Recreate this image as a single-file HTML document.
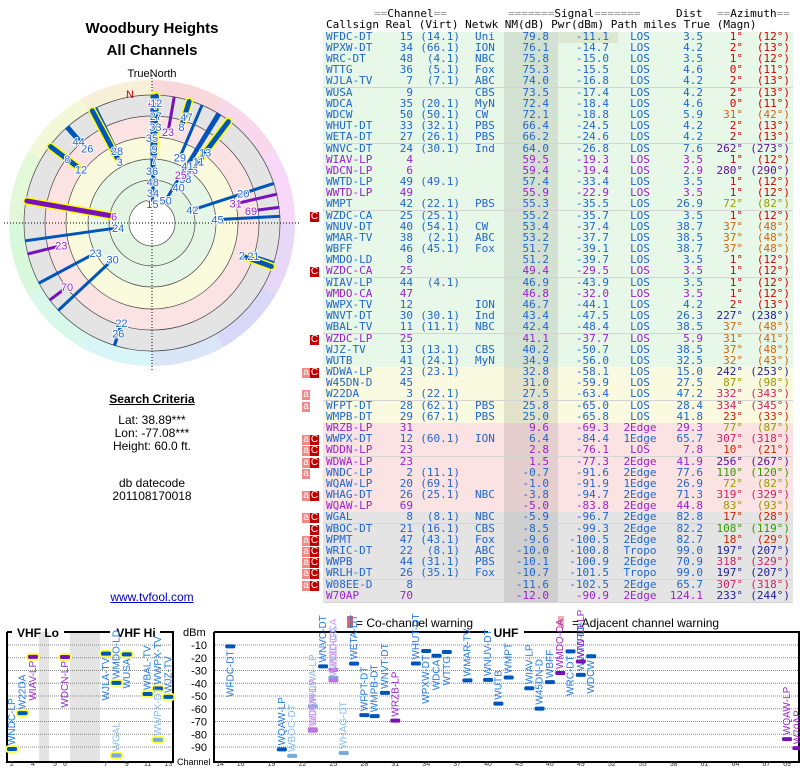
<!DOCTYPE html>
<html><head><meta charset="utf-8">
<style>
body{margin:0;width:800px;height:768px;background:#fff;position:relative;overflow:hidden;font-family:"Liberation Sans",sans-serif}
.abs{position:absolute;white-space:nowrap}
.ctr{position:absolute;left:0;width:304px;text-align:center;white-space:nowrap}
#tbl{position:absolute;left:0;top:0;width:800px;height:610px;font-family:"DejaVu Sans Mono",monospace;font-size:11px}
.row{position:absolute;left:323px;width:470px;height:11px;border-bottom:1px solid #d4d4d4}
.c{position:absolute;top:-1px;line-height:12px;white-space:nowrap}
.hd{position:absolute;font-family:"DejaVu Sans Mono",monospace;font-size:11px;white-space:nowrap;line-height:12px}
.g{color:#999}
.fl{position:absolute;width:9px;height:10px;color:#fff;font-size:10px;line-height:10px;text-align:center;font-family:"Liberation Sans",sans-serif}
</style></head><body>
<div class="ctr" style="top:20px;font-size:15px;font-weight:bold">Woodbury Heights</div>
<div class="ctr" style="top:42px;font-size:15px;font-weight:bold">All Channels</div>
<div class="ctr" style="top:68px;font-size:11px">TrueNorth</div>
<svg id="polar" class="abs" style="left:0;top:70px" width="304" height="310"></svg>
<div class="ctr" style="top:392px;font-size:12px;font-weight:bold;text-decoration:underline">Search Criteria</div>
<div class="ctr" style="top:413px;font-size:12px">Lat: 38.89***</div>
<div class="ctr" style="top:426px;font-size:12px">Lon: -77.08***</div>
<div class="ctr" style="top:439px;font-size:12px">Height: 60.0 ft.</div>
<div class="ctr" style="top:476px;font-size:12px">db datecode</div>
<div class="ctr" style="top:489px;font-size:12px">201108170018</div>
<div class="ctr" style="top:590px;font-size:12px;color:#0000cc;text-decoration:underline">www.tvfool.com</div>

<div id="tbl">
<div class="hd" style="left:374px;top:8px"><span class="g">==</span>Channel<span class="g">==</span></div>
<div class="hd" style="left:508px;top:8px"><span class="g">=======</span>Signal<span class="g">=======</span></div>
<div class="hd" style="left:676px;top:8px">Dist</div>
<div class="hd" style="left:717px;top:8px"><span class="g">==</span>Azimuth<span class="g">==</span></div>
<div class="hd" style="left:326px;top:19px">Callsign Real (Virt) Netwk  NM(dB) Pwr(dBm)  Path   miles True (Magn)</div>
</div>

<svg id="spec" class="abs" style="left:0;top:610px" width="800" height="158"></svg>

<script>
const calls=["WFDC-DT","WPXW-DT","WRC-DT","WTTG","WJLA-TV","WUSA","WDCA","WDCW","WHUT-DT","WETA-DT","WNVC-DT","WIAV-LP","WDCN-LP","WWTD-LP","WWTD-LP","WMPT","WZDC-CA","WNUV-DT","WMAR-TV","WBFF","WMDO-LD","WZDC-CA","WIAV-LP","WMDO-CA","WWPX-TV","WNVT-DT","WBAL-TV","WZDC-LP","WJZ-TV","WUTB","WDWA-LP","W45DN-D","W22DA","WFPT-DT","WMPB-DT","WRZB-LP","WWPX-DT","WDDN-LP","WDWA-LP","WNDC-LP","WQAW-LP","WHAG-DT","WQAW-LP","WGAL","WBOC-DT","WPMT","WRIC-DT","WWPB","WRLH-DT","W08EE-D","W70AP"];
const reals=[15,34,48,36,7,9,35,50,33,27,24,4,6,49,49,42,25,40,38,46,8,25,44,47,12,30,11,25,13,41,23,45,3,28,29,31,12,23,23,2,20,26,69,8,21,47,22,44,26,8,70];
const virts=["14.1","66.1","4.1","5.1","7.1","","20.1","50.1","32.1","26.1","30.1","","","49.1","","22.1","25.1","54.1","2.1","45.1","","","4.1","","","30.1","11.1","","13.1","24.1","23.1","","22.1","62.1","67.1","","60.1","","","11.1","69.1","25.1","","8.1","16.1","43.1","8.1","31.1","35.1","",""];
const netwks=["Uni","ION","NBC","Fox","ABC","CBS","MyN","CW","PBS","PBS","Ind","","","","","PBS","","CW","ABC","Fox","","","","","ION","Ind","NBC","","CBS","MyN","","","","PBS","PBS","","ION","","","","","NBC","","NBC","CBS","Fox","ABC","PBS","Fox","",""];
const nms=[79.8,76.1,75.8,75.3,74.0,73.5,72.4,72.1,66.4,66.2,64.0,59.5,59.4,57.4,55.9,55.3,55.2,53.4,53.2,51.7,51.2,49.4,46.9,46.8,46.7,43.4,42.4,41.1,40.2,34.9,32.8,31.0,27.5,25.8,25.0,9.6,6.4,2.8,1.5,-0.7,-1.0,-3.8,-5.0,-5.9,-8.5,-9.6,-10.0,-10.1,-10.7,-11.6,-12.0];
const pwrs=[-11.1,-14.7,-15.0,-15.5,-16.8,-17.4,-18.4,-18.8,-24.5,-24.6,-26.8,-19.3,-19.4,-33.4,-22.9,-35.5,-35.7,-37.4,-37.7,-39.1,-39.7,-29.5,-43.9,-32.0,-44.1,-47.5,-48.4,-37.7,-50.7,-56.0,-58.1,-59.9,-63.4,-65.0,-65.8,-69.3,-84.4,-76.1,-77.3,-91.6,-91.9,-94.7,-83.8,-96.7,-99.3,-100.5,-100.8,-100.9,-101.5,-102.5,-90.9];
const paths=["LOS","LOS","LOS","LOS","LOS","LOS","LOS","LOS","LOS","LOS","LOS","LOS","LOS","LOS","LOS","LOS","LOS","LOS","LOS","LOS","LOS","LOS","LOS","LOS","LOS","LOS","LOS","LOS","LOS","LOS","LOS","LOS","LOS","LOS","LOS","2Edge","1Edge","LOS","2Edge","2Edge","1Edge","2Edge","2Edge","2Edge","2Edge","2Edge","Tropo","2Edge","Tropo","2Edge","2Edge"];
const dists=["3.5","4.2","3.5","4.6","4.2","4.2","4.6","5.9","4.2","4.2","7.6","3.5","2.9","3.5","3.5","26.9","3.5","38.7","38.5","38.7","3.5","3.5","3.5","3.5","4.2","26.3","38.5","5.9","38.5","32.5","15.0","27.5","47.2","28.4","41.8","29.3","65.7","7.8","41.9","77.6","26.9","71.3","44.8","82.8","82.2","82.7","99.0","70.9","99.0","65.7","124.1"];
const trues=[1,2,1,0,2,2,0,31,2,2,262,1,280,1,1,72,1,37,37,37,1,1,1,1,2,227,37,31,37,32,242,87,332,334,23,77,307,10,256,110,72,319,83,17,108,18,197,318,197,307,233];
const magns=[12,13,12,11,13,13,11,42,13,13,273,12,290,12,12,82,12,48,48,48,12,12,12,12,13,238,48,41,48,43,253,98,343,345,33,87,318,21,267,120,82,329,93,28,119,29,207,329,207,318,244];
const purples=[0,0,0,0,0,0,0,0,0,0,0,1,1,0,1,0,0,0,0,0,0,1,0,1,0,0,0,1,0,0,0,0,0,0,0,1,0,1,1,0,0,0,1,0,0,0,0,0,0,0,1];
const warns=["","","","","","","","","","","","","","","","","C","","","","","C","","","","","","C","","","aC","","a","a","","","aC","aC","aC","a","","aC","","aC","C","aC","aC","aC","aC","aC",""];

function azColor(a){
  if(a<=2) return '#cc0000'; if(a<=25) return '#cc2200'; if(a<=40) return '#cc6611';
  if(a<=95) return '#999900'; if(a<=150) return '#339900'; if(a<=250) return '#222299';
  if(a<=290) return '#551199'; return '#cc2266';
}
// ---------- table ----------
const tbl=document.getElementById('tbl');
const ROW0=31.7, RH=11.18;
for(let i=0;i<calls.length;i++){
  const y=ROW0+i*RH;
  const bg=i<30?'#e8f8e8':i<35?'#fafae0':i<43?'#fbe3e3':'#e4e4e4';
  const r=document.createElement('div');
  r.className='row';
  
  
  r.style.top=y+'px'; r.style.background=bg;
  const tc=purples[i]?'#9922cc':'#2266cc';
  const ac=azColor(trues[i]);
  const cells=[
    [calls[i],3,null,'left',tc],
    [String(reals[i]),null,90,'right',tc],
    [virts[i]?'('+virts[i]+')':'',null,137,'right',tc],
    [netwks[i],152,null,'left',tc],
    [nms[i].toFixed(1),null,226,'right',tc],
    [pwrs[i].toFixed(1),null,286,'right',tc],
    [paths[i],null,null,'center',tc],
    [dists[i],null,380,'right',tc],
    [trues[i]+'°',null,420,'right',ac],
    ['('+magns[i]+'°)',null,467,'right',ac]
  ];
  const nmbg=document.createElement('div');
  nmbg.style.cssText='position:absolute;left:181px;width:54px;top:0;height:11px;background:rgba(0,0,0,0.09)';
  r.appendChild(nmbg);
  if(i===0){const pb=document.createElement('div');pb.style.cssText='position:absolute;left:235px;width:60px;top:0;height:11px;background:rgba(150,120,60,0.12)';r.appendChild(pb);}
  cells.forEach((c,k)=>{
    const s=document.createElement('span');
    s.className='c'; s.textContent=c[0]; s.style.color=c[4];
    if(c[3]==='left'){s.style.left=c[1]+'px';}
    else if(c[3]==='right'){s.style.right=(470-c[2])+'px';}
    else {s.style.left='292px';s.style.width='50px';s.style.textAlign='center';}
    r.appendChild(s);
  });
  tbl.appendChild(r);
  const w=warns[i];
  if(w.indexOf('C')>=0){const f=document.createElement('div');f.className='fl';f.textContent='C';
    
    
    f.style.left='310px';f.style.top=(y+1)+'px';f.style.background='#c00000';tbl.appendChild(f);}
  if(w.indexOf('a')>=0){const f=document.createElement('div');f.className='fl';f.textContent='a';
    
    
    f.style.left='302px';f.style.width='8px';f.style.top=(y+1)+'px';f.style.background='#f08888';tbl.appendChild(f);}
}
// ---------- polar ----------
const NS='http://www.w3.org/2000/svg';
function mk(parent,tag,attrs,name){const e=document.createElementNS(NS,tag);for(const k in attrs)e.setAttribute(k,attrs[k]);
  if(name){}parent.appendChild(e);return e;}
const P=document.getElementById('polar');
const CX=152,CY=153;
function rOf(nm){return Math.min(124,23+(80-nm)*0.95);}
function pt(az,r){const a=az*Math.PI/180;return [CX+r*Math.sin(a),CY-r*Math.cos(a)];}
function hueAt(a){return (360-a*0.95+10)%360;}
// stacked radii so labels at similar azimuths don't overlap
const radii=[];
for(let i=0;i<calls.length;i++){
  let r=rOf(nms[i]);
  for(let j=0;j<i;j++){ if(Math.abs(trues[j]-trues[i])<=3 && r<radii[j]+11) r=radii[j]+11; }
  radii.push(Math.min(r,124));
}
for(let a=0;a<360;a+=30){
  const p1=pt(a,143),p2=pt(a+30,143);
  mk(P,'path',{d:`M${CX},${CY}L${p1[0]},${p1[1]}A143,143 0 0,1 ${p2[0]},${p2[1]}Z`,fill:`hsl(${hueAt(a+15)},70%,91%)`,stroke:'none'});
}
mk(P,'circle',{cx:CX,cy:CY,r:128,fill:'#e4e4e4',stroke:'#444','stroke-width':0.7},'ring-grey');
mk(P,'circle',{cx:CX,cy:CY,r:107,fill:'#fbe3e3',stroke:'#444','stroke-width':0.7},'ring-pink');
mk(P,'circle',{cx:CX,cy:CY,r:86,fill:'#fafadc',stroke:'#444','stroke-width':0.7},'ring-yellow');
mk(P,'circle',{cx:CX,cy:CY,r:64,fill:'#e6f6e6',stroke:'#444','stroke-width':0.7},'ring-green');
mk(P,'circle',{cx:CX,cy:CY,r:43,fill:'#e2f4e2',stroke:'#444','stroke-width':0.7},'ring-green-inner');
mk(P,'circle',{cx:CX,cy:CY,r:23,fill:'#fff',stroke:'#444','stroke-width':0.7},'ring-center');
mk(P,'line',{x1:CX-148,y1:CY,x2:CX+148,y2:CY,stroke:'#000','stroke-dasharray':'1,2','stroke-width':1},'crosshair-h');
mk(P,'line',{x1:CX,y1:CY-148,x2:CX,y2:CY+148,stroke:'#000','stroke-dasharray':'1,2','stroke-width':1},'crosshair-v');
const nt=mk(P,'text',{x:126,y:28,'font-size':11,fill:'#cc0000','font-family':'Liberation Sans'},'north-marker');nt.textContent='N';
for(let i=calls.length-1;i>=0;i--){
  const r0=radii[i];const p0=pt(trues[i],r0),p1=pt(trues[i],127);
  const vhf=reals[i]<14;
  const col=purples[i]?'#7711bb':'#0055bb';
  if(vhf) mk(P,'line',{x1:p0[0],y1:p0[1],x2:p1[0],y2:p1[1],stroke:'#ffff00','stroke-width':8,'stroke-linecap':'round'});
  const b=mk(P,'line',{x1:p0[0],y1:p0[1],x2:p1[0],y2:p1[1],stroke:col,'stroke-width':vhf?5:3,'stroke-linecap':'round'});
  
  
}
for(let i=0;i<calls.length;i++){
  const lp=pt(trues[i],radii[i]-4);
  const t=mk(P,'text',{x:lp[0],y:lp[1]+4,'font-size':11,'text-anchor':'middle','font-family':'Liberation Sans',fill:purples[i]?'#9922cc':'#2266cc',stroke:'#fff','stroke-width':2,'paint-order':'stroke'});
  
  
  t.textContent=reals[i];
}
// ---------- spectrum ----------
const S=document.getElementById('spec');
const dbTicks=[-10,-20,-30,-40,-50,-60,-70,-80,-90];
const vhfTicks=[2,4,5,6,7,9,11,13];
const uhfTicks=[14,16,19,22,25,28,31,34,37,40,43,46,49,52,55,58,61,64,67,69];
function yOf(d){return 35+(-10-Math.max(d,-97))*1.275;}
function xV(ch){if(ch<=4)return 12+(ch-2)*10.5;if(ch<=6)return 55+(ch-5)*10;return 106+(ch-7)*10.4;}
function xU(ch){return 220+(ch-14)*10.31;}
mk(S,'rect',{x:39,y:22,width:10,height:130,fill:'#e4e4e4'},'gap-band-4-5');
mk(S,'rect',{x:70,y:22,width:30,height:130,fill:'#e4e4e4'},'gap-band-6-7');
dbTicks.forEach(d=>{
  const y=yOf(d);
  mk(S,'line',{x1:8,x2:172,y1:y,y2:y,stroke:'#888','stroke-dasharray':'1,1'});
  mk(S,'line',{x1:215,x2:799,y1:y,y2:y,stroke:'#888','stroke-dasharray':'1,1'});
  const t=mk(S,'text',{x:207,y:y+4,'font-size':11,'text-anchor':'end','font-family':'Liberation Sans'},'dbm-tick');t.textContent=d;
});
mk(S,'path',{d:'M7,22V152H173V22H160M7,22H12M64,22H110',fill:'none',stroke:'#000','stroke-width':2},'vhf-frame');
mk(S,'path',{d:'M214,22V152H799V22H524M214,22H488',fill:'none',stroke:'#000','stroke-width':2},'uhf-frame');
let tt=mk(S,'text',{x:38,y:27,'font-size':12,'font-weight':'bold','text-anchor':'middle','font-family':'Liberation Sans'},'vhf-lo-title');tt.textContent='VHF Lo';
tt=mk(S,'text',{x:136,y:27,'font-size':12,'font-weight':'bold','text-anchor':'middle','font-family':'Liberation Sans'},'vhf-hi-title');tt.textContent='VHF Hi';
tt=mk(S,'text',{x:506,y:27,'font-size':12,'font-weight':'bold','text-anchor':'middle','font-family':'Liberation Sans'},'uhf-title');tt.textContent='UHF';
tt=mk(S,'text',{x:183,y:26,'font-size':11,'font-family':'Liberation Sans'},'dbm-axis-title');tt.textContent='dBm';
tt=mk(S,'text',{x:177,y:155,'font-size':9,'font-family':'Liberation Sans'},'channel-axis-title');tt.textContent='Channel';
vhfTicks.forEach(c=>{const t=mk(S,'text',{x:xV(c),y:156,'font-size':7,'text-anchor':'middle','font-family':'Liberation Sans',fill:'#333'},'channel-tick');t.textContent=c;});
uhfTicks.forEach(c=>{const t=mk(S,'text',{x:xU(c),y:156,'font-size':7,'text-anchor':'middle','font-family':'Liberation Sans',fill:'#333'},'channel-tick');t.textContent=c;});
mk(S,'rect',{x:347,y:6,width:6,height:12,fill:'#e06666'},'cochannel-legend-swatch');
tt=mk(S,'text',{x:356,y:17,'font-size':12,'font-family':'Liberation Sans'},'cochannel-legend');tt.textContent='= Co-channel warning';
tt=mk(S,'rect',{x:558,y:6,width:6,height:12,fill:'#f4aaaa'},'adjacent-legend-swatch');
tt=mk(S,'text',{x:572,y:17,'font-size':12,'font-family':'Liberation Sans'},'adjacent-legend');tt.textContent='= Adjacent channel warning';
for(let i=0;i<calls.length;i++){
  if(pwrs[i]<-100) continue;
  const ch=reals[i];const x=ch<14?xV(ch):xU(ch);const y=yOf(pwrs[i]);
  const faded=warns[i].indexOf('C')>=0;
  const col=purples[i]?(faded?'#bb77dd':'#7711bb'):(faded?'#77aadd':'#0055bb');
  const tcol=purples[i]?(faded?'#cc99ee':'#9922cc'):(faded?'#88bbee':'#2277dd');
  if(ch<14) mk(S,'rect',{x:x-7,y:y-4,width:14,height:8,rx:4,fill:'#ffff44'});
  const m=mk(S,'rect',{x:x-5,y:y-2,width:10,height:4,rx:1.5,fill:col});
  
  
  const below=pwrs[i]>-20;
  const ty=below?y+4:y-4;
  const t=mk(S,'text',{x:x+3,y:ty,'font-size':10,'font-family':'Liberation Sans',fill:tcol,'text-anchor':below?'end':'start',transform:`rotate(-90 ${x+3} ${ty})`});
  
  
  t.textContent=calls[i];
}
</script>
</body></html>
